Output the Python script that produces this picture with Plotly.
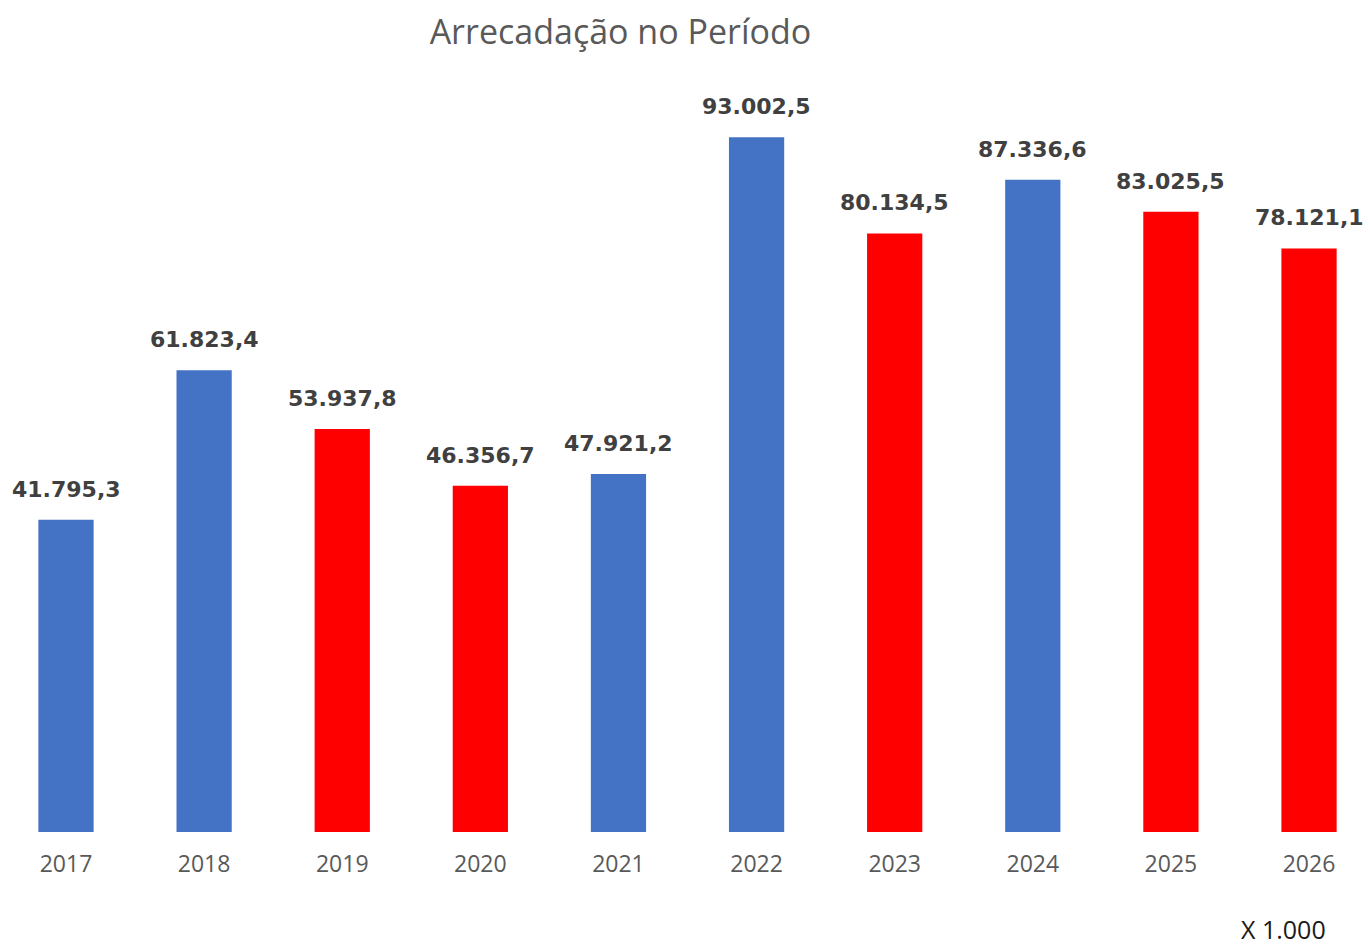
import plotly.graph_objects as go

years = ["2017", "2018", "2019", "2020", "2021", "2022", "2023", "2024", "2025", "2026"]
values = [41795.3, 61823.4, 53937.8, 46356.7, 47921.2, 93002.5, 80134.5, 87336.6, 83025.5, 78121.1]
kinds = ["b", "b", "r", "r", "b", "b", "r", "b", "r", "r"]
palette = {"b": "#4472C4", "r": "#FF0000"}
colors = [palette[k] for k in kinds]


def br(v):
    s = f"{v:,.1f}"
    return s.replace(",", "X").replace(".", ",").replace("X", ".")


labels = [br(v) for v in values]

fig = go.Figure()
fig.add_trace(go.Bar(
    x=list(range(len(years))), y=values, marker=dict(color=colors, line=dict(width=0)),
    width=0.4, hoverinfo="skip",
))

for i, (v, t) in enumerate(zip(values, labels)):
    fig.add_annotation(x=i, y=v, text=f"<b>{t}</b>", showarrow=False,
                       yanchor="bottom", yshift=16,
                       font=dict(family="DejaVu Sans", size=22, color="#404040"))

fig.add_annotation(xref="paper", yref="paper", x=0.935, y=-0.1325, text="X 1.000",
                   showarrow=False, xanchor="center", yanchor="middle",
                   font=dict(family="Open Sans", size=25, color="#1a1a1a"))

fig.update_layout(
    width=1364, height=939,
    margin=dict(l=0, r=0, t=92, b=115),
    paper_bgcolor="white", plot_bgcolor="white",
    showlegend=False,
    title=dict(text="Arrecadação no Período", x=0.449, xanchor="center", y=0.9745, yanchor="middle",
               font=dict(family="Open Sans", size=34, color="#595959")),
    xaxis=dict(tickmode="array", tickvals=list(range(len(years))), ticktext=years,
               range=[-0.42, 9.456], showgrid=False, zeroline=False, showline=False,
               ticks="", ticklabelstandoff=16,
               tickfont=dict(family="Open Sans", size=23, color="#595959")),
    yaxis=dict(range=[0, 98000], visible=False, showgrid=False, zeroline=False),
)

fig.write_html("out.html")
